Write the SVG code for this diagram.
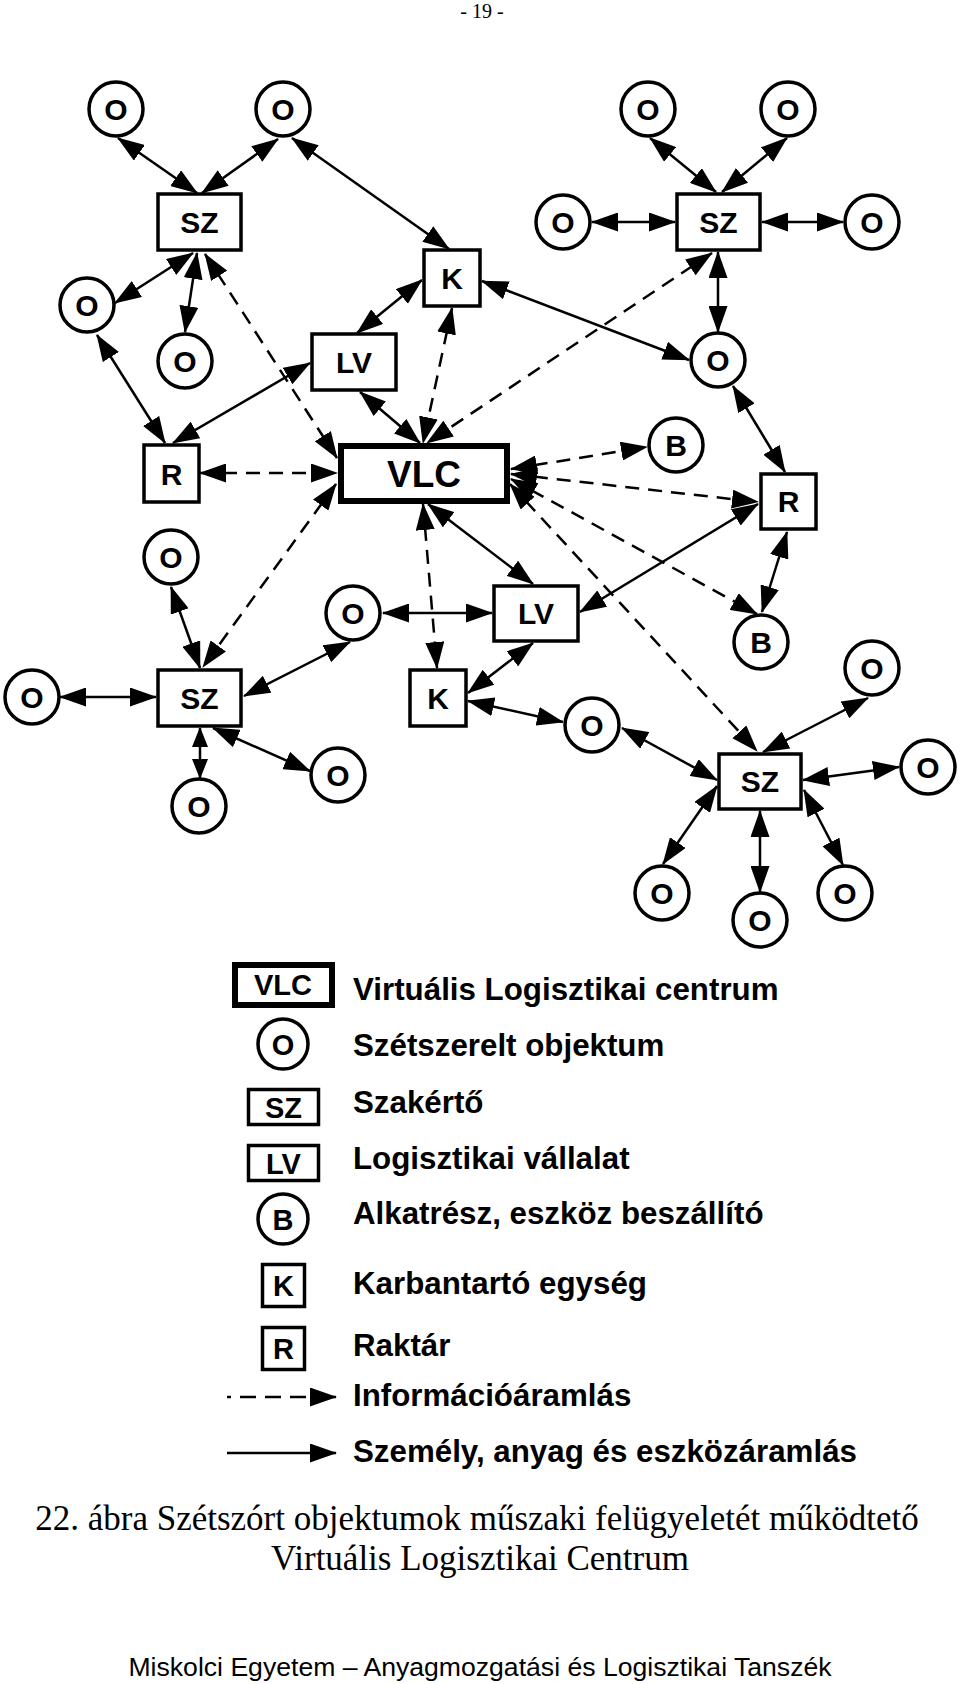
<svg xmlns="http://www.w3.org/2000/svg" width="960" height="1684" viewBox="0 0 960 1684">
<style>
.bg{fill:#fff}
.n{fill:#fff;stroke:#000;stroke-width:3.5}
.vlc{fill:#fff;stroke:#000;stroke-width:6}
.t{font-family:"Liberation Sans",Arial,sans-serif;font-weight:bold;font-size:30px;text-anchor:middle;fill:#000}
.tv{font-family:"Liberation Sans",Arial,sans-serif;font-weight:bold;font-size:37px;text-anchor:middle;fill:#000}
.lt{font-family:"Liberation Sans",Arial,sans-serif;font-weight:bold;font-size:31.3px;fill:#000}
.lg{font-family:"Liberation Sans",Arial,sans-serif;font-weight:bold;font-size:29px;text-anchor:middle;fill:#000}
.s{stroke:#000;stroke-width:2.5;fill:none;marker-start:url(#ah);marker-end:url(#ah)}
.ss{stroke:#000;stroke-width:2.5;fill:none;marker-start:url(#ahs);marker-end:url(#ahs)}
.d{stroke:#000;stroke-width:2.5;fill:none;stroke-dasharray:14 9;marker-start:url(#ah);marker-end:url(#ah)}
.cap{font-family:"Liberation Serif","Times New Roman",serif;font-size:35px;text-anchor:middle;fill:#000}
.foot{font-family:"Liberation Sans",Arial,sans-serif;font-size:26.6px;text-anchor:middle;fill:#000}
.hdr{font-family:"Liberation Serif","Times New Roman",serif;font-size:20px;text-anchor:middle;fill:#000}
</style>
<defs>
<marker id="ah" viewBox="0 0 27 19" refX="26" refY="9.5" markerWidth="27" markerHeight="19" markerUnits="userSpaceOnUse" orient="auto-start-reverse">
<path d="M0,0 L27,9.5 L0,19 z" fill="#000"/>
</marker>
<marker id="ahs" viewBox="0 0 20 16" refX="19" refY="8" markerWidth="20" markerHeight="16" markerUnits="userSpaceOnUse" orient="auto-start-reverse">
<path d="M0,0 L20,8 L0,16 z" fill="#000"/>
</marker>
<marker id="ae" viewBox="0 0 27 19" refX="26" refY="9.5" markerWidth="27" markerHeight="19" markerUnits="userSpaceOnUse" orient="auto">
<path d="M0,0 L27,9.5 L0,19 z" fill="#000"/>
</marker>
</defs>
<rect class="bg" x="0" y="0" width="960" height="1684"/>
<text class="hdr" x="482" y="18">- 19 -</text>

<g id="connectors">
<line class="s" x1="118" y1="138" x2="197" y2="193"/>
<line class="s" x1="278" y1="139" x2="202" y2="193"/>
<line class="s" x1="292" y1="138" x2="449" y2="249"/>
<line class="s" x1="193" y1="253" x2="115" y2="303"/>
<line class="s" x1="197" y1="253" x2="185" y2="332"/>
<line class="d" x1="205" y1="254" x2="337" y2="458"/>
<line class="s" x1="422" y1="280" x2="357" y2="333"/>
<line class="d" x1="452" y1="308" x2="423" y2="443"/>
<line class="s" x1="360" y1="392" x2="420" y2="443"/>
<line class="s" x1="310" y1="363" x2="173" y2="443"/>
<line class="s" x1="97" y1="335" x2="165" y2="443"/>
<line class="d" x1="200" y1="473" x2="337" y2="473"/>
<line class="s" x1="171" y1="587" x2="200" y2="668"/>
<line class="d" x1="336" y1="484" x2="203" y2="667"/>
<line class="s" x1="60" y1="697" x2="156" y2="697"/>
<line class="s" x1="244" y1="696" x2="350" y2="642"/>
<line class="ss" x1="200" y1="728" x2="200" y2="778"/>
<line class="s" x1="213" y1="728" x2="310" y2="771"/>
<line class="s" x1="383" y1="613" x2="492" y2="613"/>
<line class="d" x1="423" y1="504" x2="437" y2="668"/>
<line class="s" x1="533" y1="643" x2="468" y2="693"/>
<line class="s" x1="468" y1="701" x2="563" y2="722"/>
<line class="s" x1="428" y1="504" x2="533" y2="584"/>
<line class="s" x1="622" y1="728" x2="717" y2="780"/>
<line class="s" x1="763" y1="752" x2="868" y2="698"/>
<line class="s" x1="803" y1="780" x2="899" y2="767"/>
<line class="s" x1="717" y1="786" x2="663" y2="864"/>
<line class="s" x1="760" y1="811" x2="760" y2="892"/>
<line class="s" x1="804" y1="790" x2="843" y2="865"/>
<line class="d" x1="511" y1="469" x2="647" y2="447"/>
<line class="d" x1="511" y1="474" x2="758" y2="502"/>
<line class="d" x1="511" y1="479" x2="757" y2="614"/>
<line class="d" x1="510" y1="484" x2="757" y2="751"/>
<line class="s" x1="580" y1="612" x2="758" y2="504"/>
<line class="s" x1="787" y1="532" x2="762" y2="612"/>
<line class="s" x1="733" y1="386" x2="785" y2="472"/>
<line class="s" x1="482" y1="281" x2="689" y2="360"/>
<line class="s" x1="650" y1="138" x2="716" y2="192"/>
<line class="s" x1="787" y1="138" x2="722" y2="192"/>
<line class="s" x1="592" y1="222" x2="675" y2="222"/>
<line class="s" x1="762" y1="222" x2="843" y2="222"/>
<line class="s" x1="718" y1="252" x2="718" y2="332"/>
<line class="d" x1="712" y1="253" x2="427" y2="443"/>
</g>

<g id="o1"><circle class="n" cx="116" cy="109" r="27"/><text class="t" x="116" y="120">O</text></g>
<g id="o2"><circle class="n" cx="283" cy="109" r="27"/><text class="t" x="283" y="120">O</text></g>
<g id="sz1"><rect class="n" x="158" y="194" width="83" height="56"/><text class="t" x="199.5" y="233">SZ</text></g>
<g id="k1"><rect class="n" x="424" y="250" width="56" height="56"/><text class="t" x="452" y="289">K</text></g>
<g id="o3"><circle class="n" cx="87" cy="305" r="27"/><text class="t" x="87" y="316">O</text></g>
<g id="o4"><circle class="n" cx="185" cy="361" r="27"/><text class="t" x="185" y="372">O</text></g>
<g id="lv1"><rect class="n" x="312" y="334" width="84" height="56"/><text class="t" x="354" y="373">LV</text></g>
<g id="o5"><circle class="n" cx="648" cy="109" r="27"/><text class="t" x="648" y="120">O</text></g>
<g id="o6"><circle class="n" cx="788" cy="109" r="27"/><text class="t" x="788" y="120">O</text></g>
<g id="o7"><circle class="n" cx="563" cy="222" r="27"/><text class="t" x="563" y="233">O</text></g>
<g id="sz2"><rect class="n" x="677" y="194" width="83" height="56"/><text class="t" x="718.5" y="233">SZ</text></g>
<g id="o8"><circle class="n" cx="872" cy="222" r="27"/><text class="t" x="872" y="233">O</text></g>
<g id="o9"><circle class="n" cx="718" cy="360" r="27"/><text class="t" x="718" y="371">O</text></g>
<g id="r1"><rect class="n" x="144" y="445" width="55" height="57"/><text class="t" x="171.5" y="485">R</text></g>
<g id="vlc"><rect class="vlc" x="341" y="446" width="166" height="55"/><text class="tv" x="424" y="487">VLC</text></g>
<g id="b1"><circle class="n" cx="676" cy="445" r="27"/><text class="t" x="676" y="456">B</text></g>
<g id="r2"><rect class="n" x="761" y="474" width="55" height="55"/><text class="t" x="788.5" y="512">R</text></g>
<g id="o10"><circle class="n" cx="171" cy="557" r="27"/><text class="t" x="171" y="568">O</text></g>
<g id="o11"><circle class="n" cx="353" cy="613" r="27"/><text class="t" x="353" y="624">O</text></g>
<g id="lv2"><rect class="n" x="494" y="586" width="84" height="55"/><text class="t" x="536" y="624">LV</text></g>
<g id="b2"><circle class="n" cx="761" cy="642" r="27"/><text class="t" x="761" y="653">B</text></g>
<g id="o12"><circle class="n" cx="32" cy="697" r="27"/><text class="t" x="32" y="708">O</text></g>
<g id="sz3"><rect class="n" x="158" y="670" width="83" height="56"/><text class="t" x="199.5" y="709">SZ</text></g>
<g id="k2"><rect class="n" x="410" y="670" width="56" height="56"/><text class="t" x="438" y="709">K</text></g>
<g id="o13"><circle class="n" cx="872" cy="668" r="27"/><text class="t" x="872" y="679">O</text></g>
<g id="o14"><circle class="n" cx="592" cy="725" r="27"/><text class="t" x="592" y="736">O</text></g>
<g id="sz4"><rect class="n" x="719" y="754" width="82" height="55"/><text class="t" x="760" y="792">SZ</text></g>
<g id="o15"><circle class="n" cx="928" cy="767" r="27"/><text class="t" x="928" y="778">O</text></g>
<g id="o16"><circle class="n" cx="338" cy="775" r="27"/><text class="t" x="338" y="786">O</text></g>
<g id="o17"><circle class="n" cx="199" cy="806" r="27"/><text class="t" x="199" y="817">O</text></g>
<g id="o18"><circle class="n" cx="662" cy="893" r="27"/><text class="t" x="662" y="904">O</text></g>
<g id="o19"><circle class="n" cx="760" cy="920" r="27"/><text class="t" x="760" y="931">O</text></g>
<g id="o20"><circle class="n" cx="845" cy="893" r="27"/><text class="t" x="845" y="904">O</text></g>

<g id="legend">
<rect class="vlc" x="235" y="965" width="97" height="40"/><text class="lg" x="283" y="995">VLC</text>
<text class="lt" x="353" y="1000">Virtuális Logisztikai centrum</text>
<circle class="n" cx="283" cy="1044" r="25"/><text class="lg" x="283" y="1055">O</text>
<text class="lt" x="353" y="1056">Szétszerelt objektum</text>
<rect class="n" x="248.5" y="1089.5" width="70" height="35"/><text class="lg" x="283.5" y="1118">SZ</text>
<text class="lt" x="353" y="1113">Szakértő</text>
<rect class="n" x="248.5" y="1145.5" width="70" height="35"/><text class="lg" x="283.5" y="1174">LV</text>
<text class="lt" x="353" y="1169">Logisztikai vállalat</text>
<circle class="n" cx="283" cy="1219" r="25"/><text class="lg" x="283" y="1230">B</text>
<text class="lt" x="353" y="1224">Alkatrész, eszköz beszállító</text>
<rect class="n" x="262.5" y="1264.5" width="42" height="42"/><text class="lg" x="283.5" y="1296">K</text>
<text class="lt" x="353" y="1294">Karbantartó egység</text>
<rect class="n" x="262.5" y="1327.5" width="42" height="42"/><text class="lg" x="283.5" y="1359">R</text>
<text class="lt" x="353" y="1356">Raktár</text>
<line x1="227" y1="1397" x2="336" y2="1397" stroke="#000" stroke-width="2.5" stroke-dasharray="4 9 16 9 16 9 16 9 60" marker-end="url(#ae)"/>
<text class="lt" x="353" y="1406">Információáramlás</text>
<line x1="227" y1="1453" x2="336" y2="1453" stroke="#000" stroke-width="2.5" marker-end="url(#ae)"/>
<text class="lt" x="353" y="1462">Személy, anyag és eszközáramlás</text>
</g>

<g id="caption">
<text class="cap" x="477" y="1530">22. ábra Szétszórt objektumok műszaki felügyeletét működtető</text>
<text class="cap" x="480" y="1570">Virtuális Logisztikai Centrum</text>
<text class="foot" x="480" y="1676">Miskolci Egyetem – Anyagmozgatási és Logisztikai Tanszék</text>
</g>
</svg>
